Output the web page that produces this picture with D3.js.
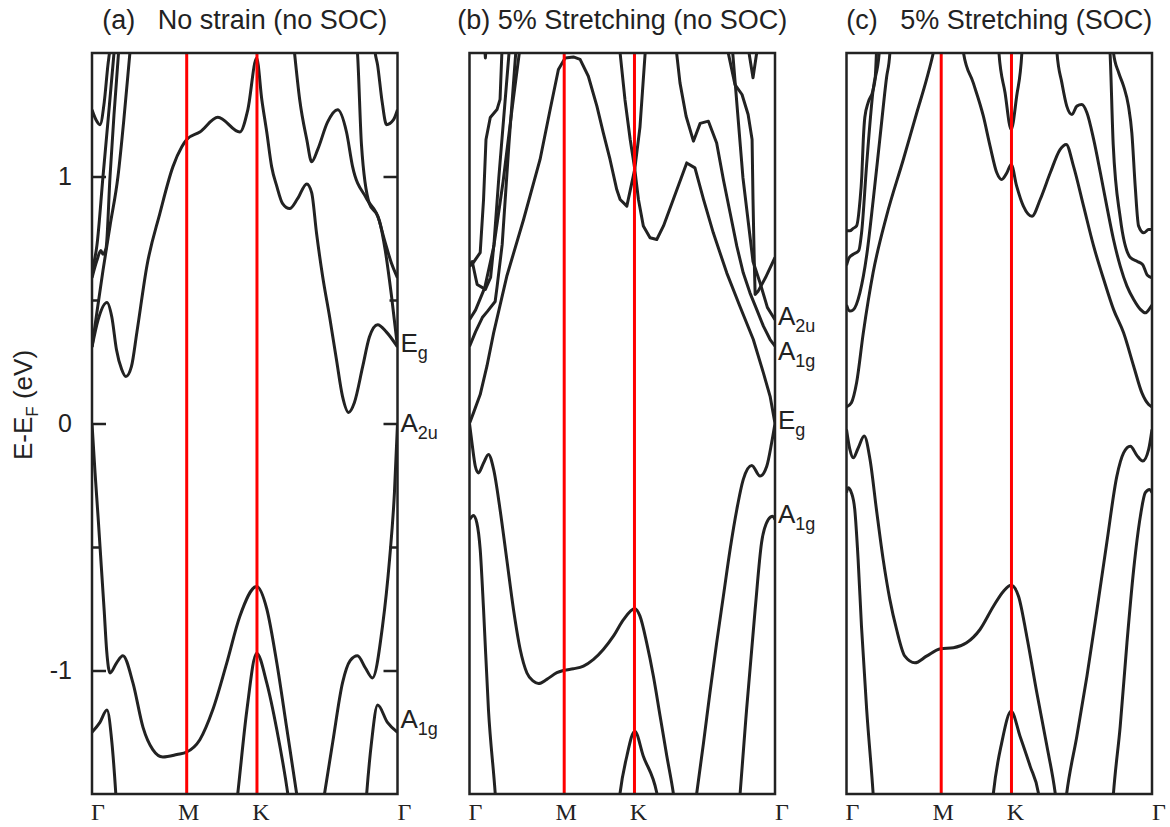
<!DOCTYPE html>
<html>
<head>
<meta charset="utf-8">
<script src="https://cdn.jsdelivr.net/npm/d3@7"></script>
<style>
  body { margin: 0; background: #fff; }
  svg { display: block; }
  text { font-family: "Liberation Sans", Arial, sans-serif; fill: #222; }
  .kl { font-family: "Liberation Serif", "Times New Roman", serif; }
</style>
</head>
<body>
<div id="chart"></div>
<script>
// k path: Gamma -> M -> K -> Gamma, normalised to 0..1 ; energies in eV
var kTicks = [0, 0.31, 0.54, 1];
var kLabels = ["Γ", "M", "K", "Γ"];
var majorTicks = [-1, 0, 1];
var minorTicks = [-0.5, 0.5];
var titles = ["(a)   No strain (no SOC)", "(b) 5% Stretching (no SOC)", "(c)   5% Stretching (SOC)"];

// ---- (a) no strain, no SOC
var aC1 = [[0,0.31],[0.020,0.42],[0.049,0.49],[0.065,0.43],[0.080,0.30],[0.097,0.22],[0.111,0.19],[0.129,0.23],[0.147,0.37],[0.180,0.64],[0.222,0.85],[0.265,1.04],[0.294,1.12],[0.310,1.15],[0.353,1.18],[0.412,1.24],[0.484,1.18],[0.510,1.27],[0.539,1.48],[0.556,1.31],[0.572,1.18],[0.588,1.04],[0.605,0.96],[0.624,0.89],[0.647,0.87],[0.673,0.91],[0.703,0.97],[0.719,0.935],[0.735,0.77],[0.755,0.595],[0.778,0.43],[0.800,0.26],[0.820,0.11],[0.840,0.045],[0.859,0.085],[0.886,0.23],[0.908,0.35],[0.935,0.40],[0.964,0.37],[1,0.31]];
var aC2 = [[0,0.31],[0.016,0.45],[0.036,0.62],[0.059,0.80],[0.085,1.0],[0.105,1.24],[0.124,1.50],[0.135,1.65]];
var aC3 = [[0,0.59],[0.016,0.66],[0.029,0.70],[0.036,0.685],[0.046,0.71],[0.059,1.0],[0.072,1.25],[0.088,1.52],[0.095,1.65]];
var aC4 = [[0,0.62],[0.016,0.72],[0.036,1.0],[0.052,1.22],[0.072,1.50],[0.080,1.62]];
var aC5 = [[0,1.27],[0.013,1.23],[0.026,1.21],[0.040,1.30],[0.052,1.45],[0.059,1.52],[0.065,1.6]];
var aC6 = [[0.920,1.6],[0.925,1.52],[0.935,1.45],[0.950,1.30],[0.964,1.21],[0.987,1.23],[1,1.27]];
var aC7 = [[0.655,1.6],[0.663,1.50],[0.680,1.31],[0.703,1.15],[0.719,1.06],[0.739,1.11],[0.771,1.22],[0.804,1.27],[0.833,1.18],[0.853,1.04],[0.899,0.91],[0.941,0.82],[0.960,0.70],[0.980,0.52],[1,0.31]];
var aC8 = [[0.860,1.6],[0.869,1.50],[0.882,1.13],[0.908,0.89],[0.935,0.84],[0.958,0.74],[0.980,0.65],[1,0.59]];
var aV1 = [[0,0],[0.010,-0.2],[0.020,-0.38],[0.030,-0.57],[0.040,-0.76],[0.048,-0.92],[0.059,-1.01],[0.080,-0.97],[0.101,-0.94],[0.134,-1.05],[0.167,-1.23],[0.199,-1.32],[0.232,-1.35],[0.278,-1.34],[0.310,-1.33],[0.353,-1.28],[0.395,-1.16],[0.441,-0.97],[0.484,-0.78],[0.539,-0.66],[0.572,-0.75],[0.605,-0.97],[0.637,-1.23],[0.670,-1.50],[0.715,-1.9],[0.761,-1.50],[0.788,-1.29],[0.820,-1.05],[0.845,-0.96],[0.869,-0.94],[0.895,-0.99],[0.918,-1.03],[0.951,-0.82],[0.974,-0.55],[0.990,-0.28],[1,0]];
var aV2 = [[0.440,-1.9],[0.477,-1.50],[0.507,-1.16],[0.539,-0.93],[0.572,-1.05],[0.605,-1.24],[0.641,-1.50],[0.680,-1.9]];
var aV3 = [[0,-1.25],[0.026,-1.21],[0.049,-1.16],[0.065,-1.29],[0.078,-1.50],[0.090,-1.75]];
var aV4 = [[0.885,-1.75],[0.899,-1.50],[0.915,-1.29],[0.935,-1.14],[0.967,-1.21],[1,-1.25]];

// ---- (b) 5% stretching, no SOC
var bP = [[0,0],[0.013,0.043],[0.035,0.117],[0.057,0.232],[0.079,0.367],[0.122,0.596],[0.177,0.826],[0.231,1.069],[0.264,1.271],[0.291,1.433],[0.313,1.48],[0.340,1.484],[0.362,1.474],[0.389,1.406],[0.417,1.285],[0.438,1.177],[0.460,1.069],[0.482,0.947],[0.493,0.907],[0.515,0.88],[0.541,1.03],[0.558,1.20],[0.575,1.50],[0.580,1.6]];
var bQ = [[0.488,1.6],[0.493,1.50],[0.509,1.31],[0.526,1.15],[0.541,1.03],[0.553,0.907],[0.569,0.80],[0.591,0.752],[0.613,0.745],[0.635,0.80],[0.667,0.907],[0.711,1.055],[0.738,1.035],[0.766,0.907],[0.798,0.772],[0.842,0.61],[0.885,0.475],[0.929,0.34],[0.962,0.205],[0.984,0.11],[1,0]];
var bR = [[0.672,1.6],[0.678,1.50],[0.689,1.379],[0.709,1.244],[0.733,1.143],[0.755,1.215],[0.782,1.224],[0.809,1.136],[0.831,0.988],[0.853,0.853],[0.875,0.718],[0.896,0.61],[0.918,0.529],[0.940,0.462],[0.962,0.394],[0.984,0.34],[1,0.313]];
var bT1 = [[0.840,1.6],[0.846,1.506],[0.869,1.372],[0.892,1.332],[0.912,1.251],[0.925,1.15],[0.928,0.907],[0.932,0.664],[0.935,0.522],[0.944,0.534],[0.969,0.591],[1,0.672]];
var bT2 = [[0.855,1.6],[0.862,1.494],[0.895,0.996],[0.928,0.656],[0.951,0.57],[0.975,0.47],[1,0.42]];
var bT3 = [[0.905,1.6],[0.915,1.50],[0.928,1.40],[0.940,1.50],[0.945,1.6]];
var bW1 = [[0,0.636],[0.013,0.652],[0.035,0.692],[0.046,0.907],[0.054,1.15],[0.068,1.239],[0.090,1.271],[0.100,1.312],[0.106,1.502],[0.110,1.6]];
var bW2 = [[0,0.64],[0.009,0.656],[0.020,0.591],[0.025,0.563],[0.052,0.543],[0.069,0.591],[0.080,0.725],[0.096,0.996],[0.129,1.494],[0.135,1.6]];
var bW3 = [[0,0.312],[0.020,0.372],[0.042,0.429],[0.058,0.453],[0.084,0.494],[0.090,0.551],[0.107,0.725],[0.129,1.13],[0.151,1.494],[0.160,1.6]];
var bW4 = [[0,0.42],[0.020,0.46],[0.050,0.55],[0.080,0.72],[0.110,0.98],[0.140,1.28],[0.163,1.50],[0.170,1.6]];
var bW5 = [[0.045,1.6],[0.052,1.48],[0.058,1.6]];
var bV1 = [[0,0],[0.008,-0.078],[0.019,-0.173],[0.029,-0.20],[0.046,-0.16],[0.062,-0.125],[0.079,-0.186],[0.100,-0.348],[0.122,-0.55],[0.144,-0.753],[0.166,-0.915],[0.188,-1.01],[0.209,-1.043],[0.226,-1.053],[0.253,-1.036],[0.286,-1.009],[0.310,-0.999],[0.340,-0.993],[0.373,-0.982],[0.406,-0.955],[0.438,-0.915],[0.471,-0.861],[0.504,-0.794],[0.541,-0.75],[0.558,-0.78],[0.580,-0.888],[0.602,-1.023],[0.624,-1.185],[0.646,-1.347],[0.667,-1.495],[0.705,-1.9],[0.744,-1.495],[0.766,-1.293],[0.787,-1.09],[0.809,-0.888],[0.831,-0.699],[0.853,-0.51],[0.875,-0.348],[0.896,-0.227],[0.924,-0.17],[0.951,-0.213],[0.973,-0.173],[0.989,-0.078],[1,0]];
var bV2 = [[0,-0.39],[0.013,-0.372],[0.024,-0.402],[0.035,-0.51],[0.046,-0.753],[0.062,-1.158],[0.084,-1.495],[0.100,-1.8]];
var bV3 = [[0.870,-1.8],[0.886,-1.495],[0.907,-1.158],[0.935,-0.753],[0.956,-0.483],[0.978,-0.389],[0.992,-0.375],[1,-0.389]];
var bV4 = [[0.470,-1.8],[0.493,-1.495],[0.515,-1.347],[0.541,-1.246],[0.569,-1.347],[0.613,-1.495],[0.640,-1.7]];

// ---- (c) 5% stretching, SOC
var cP1 = [[0,0.067],[0.016,0.084],[0.033,0.165],[0.055,0.367],[0.087,0.61],[0.131,0.84],[0.186,1.069],[0.230,1.258],[0.262,1.393],[0.284,1.50],[0.300,1.6]];
var cP2 = [[0.375,1.6],[0.383,1.50],[0.415,1.379],[0.448,1.244],[0.470,1.123],[0.492,1.015],[0.508,0.988],[0.525,1.015],[0.539,1.049],[0.557,0.961],[0.579,0.88],[0.607,0.839],[0.634,0.907],[0.667,1.015],[0.699,1.109],[0.719,1.13],[0.743,1.042],[0.776,0.88],[0.809,0.718],[0.842,0.583],[0.874,0.462],[0.907,0.367],[0.940,0.232],[0.967,0.124],[0.989,0.077],[1,0.067]];
var cK = [[0.495,1.6],[0.499,1.50],[0.519,1.339],[0.539,1.19],[0.557,1.325],[0.574,1.50],[0.578,1.6]];
var cR = [[0.684,1.6],[0.689,1.50],[0.705,1.379],[0.721,1.285],[0.738,1.251],[0.754,1.285],[0.770,1.291],[0.787,1.258],[0.809,1.15],[0.831,1.015],[0.852,0.88],[0.874,0.745],[0.896,0.637],[0.918,0.556],[0.940,0.502],[0.962,0.462],[0.978,0.448],[0.992,0.465],[1,0.48]];
var cX1 = [[0.868,1.6],[0.874,1.50],[0.891,1.42],[0.907,1.366],[0.923,1.285],[0.934,1.177],[0.945,0.961],[0.956,0.80],[0.973,0.772],[0.989,0.785],[1,0.785]];
var cX2 = [[0.858,1.6],[0.863,1.494],[0.873,1.13],[0.896,0.834],[0.929,0.672],[0.952,0.656],[0.969,0.644],[0.985,0.60],[1,0.59]];
var cY1 = [[0,0.78],[0.011,0.78],[0.022,0.79],[0.033,0.80],[0.044,0.90],[0.050,1.00],[0.055,1.15],[0.060,1.24],[0.071,1.30],[0.087,1.35],[0.094,1.40],[0.098,1.50],[0.101,1.6]];
var cY2 = [[0,0.64],[0.008,0.67],[0.022,0.685],[0.040,0.70],[0.050,0.78],[0.066,1.05],[0.087,1.35],[0.107,1.50],[0.110,1.6]];
var cY3 = [[0,0.48],[0.011,0.455],[0.022,0.46],[0.044,0.53],[0.066,0.68],[0.087,0.90],[0.109,1.15],[0.131,1.40],[0.142,1.50],[0.146,1.6]];
var cV1 = [[0,-0.024],[0.011,-0.105],[0.022,-0.139],[0.038,-0.10],[0.058,-0.051],[0.077,-0.146],[0.098,-0.348],[0.120,-0.55],[0.142,-0.713],[0.164,-0.834],[0.191,-0.942],[0.224,-0.969],[0.262,-0.942],[0.308,-0.912],[0.350,-0.908],[0.393,-0.888],[0.437,-0.834],[0.481,-0.74],[0.514,-0.679],[0.539,-0.655],[0.563,-0.699],[0.590,-0.861],[0.623,-1.09],[0.656,-1.306],[0.683,-1.495],[0.702,-1.7],[0.721,-1.495],[0.754,-1.266],[0.787,-1.023],[0.820,-0.753],[0.852,-0.483],[0.885,-0.213],[0.907,-0.119],[0.929,-0.092],[0.951,-0.13],[0.970,-0.152],[0.989,-0.105],[1,-0.024]];
var cV2 = [[0,-0.28],[0.005,-0.26],[0.016,-0.28],[0.027,-0.348],[0.038,-0.55],[0.049,-0.82],[0.066,-1.158],[0.087,-1.495],[0.100,-1.75]];
var cV3 = [[0.860,-1.75],[0.874,-1.495],[0.896,-1.225],[0.918,-0.888],[0.940,-0.591],[0.962,-0.375],[0.978,-0.28],[0.992,-0.267],[1,-0.28]];
var cV4 = [[0.460,-1.8],[0.481,-1.495],[0.508,-1.293],[0.539,-1.165],[0.568,-1.266],[0.601,-1.387],[0.628,-1.495],[0.640,-1.6]];

// irreducible representation labels at the right-hand Gamma point (label energy)
var repsA = [["E", "g", 0.32], ["A", "2u", 0.0], ["A", "1g", -1.20]];
var repsB = [["A", "2u", 0.43], ["A", "1g", 0.29], ["E", "g", 0.01], ["A", "1g", -0.37]];

var panels = [
  {left: 92,    bands: [aC1, aC2, aC3, aC4, aC5, aC6, aC7, aC8, aV1, aV2, aV3, aV4], linear: [], reps: repsA, ticks: true},
  {left: 469.5, bands: [bP, bQ, bR, bT1, bT2, bT3, bW1, bW2, bW3, bW4, bW5, bV1, bV2, bV3, bV4], linear: [bP, bQ, bR, bT1, bT2, bT3, bW1, bW2, bW3, bW4, bW5], reps: repsB, ticks: false},
  {left: 846.5, bands: [cP1, cP2, cK, cR, cX1, cX2, cY1, cY2, cY3, cV1, cV2, cV3, cV4], linear: [], reps: [], ticks: false}
];

var width = 1170, height = 827;
var pw = 305.5, yTop = 53, yBottom = 794;
var ink = "#222";

var svg = d3.select("#chart").append("svg")
    .attr("width", width)
    .attr("height", height);

var y = d3.scaleLinear().domain([-1.5, 1.5]).range([yBottom, yTop]);

panels.forEach(function(p, i){
    var x = d3.scaleLinear().domain([0, 1]).range([p.left, p.left + pw]);
    var g = svg.append("g");

    svg.append("clipPath").attr("id", "clip" + i)
      .append("rect")
        .attr("x", p.left).attr("y", yTop)
        .attr("width", pw).attr("height", yBottom - yTop);

    var smooth = d3.line()
        .x(function(d){ return x(d[0]); })
        .y(function(d){ return y(d[1]); })
        .curve(d3.curveMonotoneX);
    var straight = d3.line()
        .x(function(d){ return x(d[0]); })
        .y(function(d){ return y(d[1]); });

    g.append("g").attr("clip-path", "url(#clip" + i + ")")
      .selectAll("path").data(p.bands).enter().append("path")
        .attr("d", function(d){ return p.linear.indexOf(d) >= 0 ? straight(d) : smooth(d); })
        .attr("fill", "none")
        .attr("stroke", ink)
        .attr("stroke-width", 3)
        .attr("stroke-linejoin", "round");

    // high-symmetry lines M and K
    g.selectAll("line.sym").data(kTicks.slice(1, 3)).enter().append("line")
        .attr("class", "sym")
        .attr("x1", x).attr("x2", x)
        .attr("y1", yTop).attr("y2", yBottom)
        .attr("stroke", "#ff0000")
        .attr("stroke-width", 3);

    g.append("rect")
        .attr("x", p.left).attr("y", yTop)
        .attr("width", pw).attr("height", yBottom - yTop)
        .attr("fill", "none")
        .attr("stroke", ink)
        .attr("stroke-width", 2.5);

    if (p.ticks) {
        [[d3.axisRight, p.left], [d3.axisLeft, p.left + pw]].forEach(function(a){
            g.append("g").attr("transform", "translate(" + a[1] + ",0)")
                .call(a[0](y).tickValues(majorTicks).tickSize(14).tickFormat(""))
                .call(function(s){ s.select(".domain").remove(); s.selectAll("line").attr("stroke", ink).attr("stroke-width", 2.5); });
            g.append("g").attr("transform", "translate(" + a[1] + ",0)")
                .call(a[0](y).tickValues(minorTicks).tickSize(8).tickFormat(""))
                .call(function(s){ s.select(".domain").remove(); s.selectAll("line").attr("stroke", ink).attr("stroke-width", 2.5); });
        });
        g.append("g").attr("transform", "translate(" + p.left + ",0)")
            .call(d3.axisLeft(y).tickValues(majorTicks).tickSize(0).tickPadding(20).tickFormat(function(d){ return String(d); }))
            .call(function(s){
                s.select(".domain").remove();
                s.selectAll("text").attr("font-size", 25).attr("fill", ink)
                  .attr("font-family", "Liberation Sans, Arial, sans-serif");
            });
    }

    // panel title
    g.append("text")
        .attr("x", p.left + pw / 2).attr("y", 29)
        .attr("text-anchor", "middle")
        .attr("font-size", 27)
        .style("white-space", "pre")
        .text(titles[i]);

    // k-point labels
    var kx = [p.left - 1, x(kTicks[1]) + 2, x(kTicks[2]) + 4, p.left + pw];
    kLabels.forEach(function(t, j){
        g.append("text").attr("class", "kl")
            .attr("x", kx[j]).attr("y", 820)
            .attr("text-anchor", (j == 0 || j == 3) ? "start" : "middle")
            .attr("font-size", 24)
            .text(t);
    });

    // representation labels
    p.reps.forEach(function(r){
        var t = g.append("text")
            .attr("x", p.left + pw + 3)
            .attr("y", y(r[2]) + 8)
            .attr("font-size", 26);
        t.append("tspan").text(r[0]);
        t.append("tspan").attr("dy", 7).attr("font-size", 18).text(r[1]);
    });
});

// y-axis title
var yl = svg.append("text")
    .attr("transform", "translate(32,405) rotate(-90)")
    .attr("text-anchor", "middle")
    .attr("font-size", 26);
yl.append("tspan").text("E-E");
yl.append("tspan").attr("dy", 6).attr("font-size", 17).text("F");
yl.append("tspan").attr("dy", -6).text(" (eV)");
</script>
</body>
</html>
